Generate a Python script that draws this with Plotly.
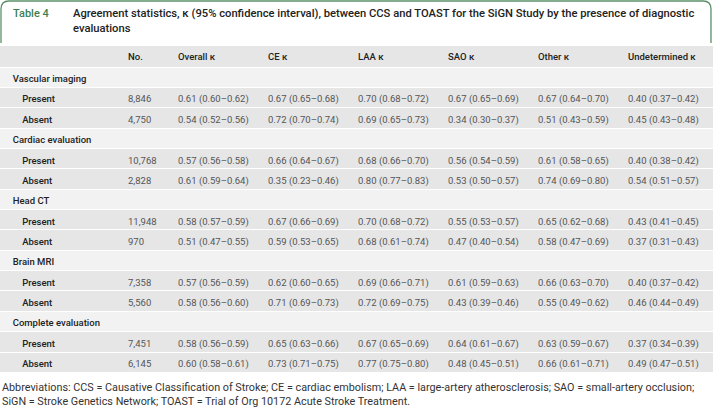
import plotly.graph_objects as go

W, H = 713, 407

title_label = "Table 4"
title_text = ("Agreement statistics, \u03ba (95% confidence interval), between CCS and TOAST for the SiGN Study by the presence of diagnostic"
              "<br>evaluations")

columns = ["", "No.", "Overall \u03ba", "CE \u03ba", "LAA \u03ba", "SAO \u03ba", "Other \u03ba", "Undetermined \u03ba"]

groups = ["Vascular imaging", "Cardiac evaluation", "Head CT", "Brain MRI", "Complete evaluation"]
levels = ["Present", "Absent"]

counts = [["8,846", "4,750"], ["10,768", "2,828"], ["11,948", "970"], ["7,358", "5,560"], ["7,451", "6,145"]]
overall = [["0.61 (0.60\u20130.62)", "0.54 (0.52\u20130.56)"], ["0.57 (0.56\u20130.58)", "0.61 (0.59\u20130.64)"],
           ["0.58 (0.57\u20130.59)", "0.51 (0.47\u20130.55)"], ["0.57 (0.56\u20130.59)", "0.58 (0.56\u20130.60)"],
           ["0.58 (0.56\u20130.59)", "0.60 (0.58\u20130.61)"]]
ce = [["0.67 (0.65\u20130.68)", "0.72 (0.70\u20130.74)"], ["0.66 (0.64\u20130.67)", "0.35 (0.23\u20130.46)"],
      ["0.67 (0.66\u20130.69)", "0.59 (0.53\u20130.65)"], ["0.62 (0.60\u20130.65)", "0.71 (0.69\u20130.73)"],
      ["0.65 (0.63\u20130.66)", "0.73 (0.71\u20130.75)"]]
laa = [["0.70 (0.68\u20130.72)", "0.69 (0.65\u20130.73)"], ["0.68 (0.66\u20130.70)", "0.80 (0.77\u20130.83)"],
       ["0.70 (0.68\u20130.72)", "0.68 (0.61\u20130.74)"], ["0.69 (0.66\u20130.71)", "0.72 (0.69\u20130.75)"],
       ["0.67 (0.65\u20130.69)", "0.77 (0.75\u20130.80)"]]
sao = [["0.67 (0.65\u20130.69)", "0.34 (0.30\u20130.37)"], ["0.56 (0.54\u20130.59)", "0.53 (0.50\u20130.57)"],
       ["0.55 (0.53\u20130.57)", "0.47 (0.40\u20130.54)"], ["0.61 (0.59\u20130.63)", "0.43 (0.39\u20130.46)"],
       ["0.64 (0.61\u20130.67)", "0.48 (0.45\u20130.51)"]]
other = [["0.67 (0.64\u20130.70)", "0.51 (0.43\u20130.59)"], ["0.61 (0.58\u20130.65)", "0.74 (0.69\u20130.80)"],
         ["0.65 (0.62\u20130.68)", "0.58 (0.47\u20130.69)"], ["0.66 (0.63\u20130.70)", "0.55 (0.49\u20130.62)"],
         ["0.63 (0.59\u20130.67)", "0.66 (0.61\u20130.71)"]]
undet = [["0.40 (0.37\u20130.42)", "0.45 (0.43\u20130.48)"], ["0.40 (0.38\u20130.42)", "0.54 (0.51\u20130.57)"],
         ["0.43 (0.41\u20130.45)", "0.37 (0.31\u20130.43)"], ["0.40 (0.37\u20130.42)", "0.46 (0.44\u20130.49)"],
         ["0.37 (0.34\u20130.39)", "0.49 (0.47\u20130.51)"]]

footnote = ("Abbreviations: CCS = Causative Classification of Stroke; CE = cardiac embolism; LAA = large-artery atherosclerosis; SAO = small-artery occlusion;"
            "<br>SiGN = Stroke Genetics Network; TOAST = Trial of Org 10172 Acute Stroke Treatment.")

# ---- build table columns ----
value_sets = [counts, overall, ce, laa, sao, other, undet]
col_label = []
col_vals = [[] for _ in value_sets]
row_kind = []
for gi, g in enumerate(groups):
    col_label.append("\u00a0\u00a0" + g)
    for c in col_vals:
        c.append("")
    row_kind.append("group")
    for li, lv in enumerate(levels):
        col_label.append("\u00a0" * 6 + lv)
        for k, vs in enumerate(value_sets):
            col_vals[k].append(vs[gi][li])
        row_kind.append("data")

GROUP_FILL = "#f2f2f2"
DATA_FILL = "#e6e6e6"
HEADER_FILL = "#e6e6e6"
n_rows = len(row_kind)

col_widths = [120, 50, 90, 90, 90, 90, 90, 93]
top_px = 45
domain_y = [0.02, 1 - top_px / H]
header_h = 22
row_h = 20.36
sep = 1.0

FONT = "Roboto"
label_font = dict(family=FONT, size=9.5, color="#222222", weight=500)

fig = go.Figure()

# row backgrounds (header + body rows) drawn as horizontal bands on a pixel-scaled axis
band_centers = [top_px + header_h / 2] + [top_px + header_h + row_h * (i + 0.5) for i in range(n_rows)]
band_widths = [header_h - sep] + [row_h - sep] * n_rows
band_fills = [HEADER_FILL] + [GROUP_FILL if k == "group" else DATA_FILL for k in row_kind]
fig.add_trace(go.Bar(
    orientation="h", y=band_centers, x=[1] * len(band_centers), width=band_widths,
    marker=dict(color=band_fills, line=dict(width=0)), hoverinfo="skip", showlegend=False,
))

# text layer
fig.add_trace(go.Table(
    domain=dict(x=[0, 1], y=domain_y),
    columnwidth=col_widths,
    header=dict(values=columns, fill_color="rgba(0,0,0,0)", line=dict(color="rgba(0,0,0,0)", width=0),
                align="left", font=label_font, height=header_h),
    cells=dict(values=[col_label] + col_vals, fill_color="rgba(0,0,0,0)",
               line=dict(color="rgba(0,0,0,0)", width=0),
               align="left",
               font=dict(family=FONT, size=9.5,
                         color=["#222222"] + ["#555555"] * len(value_sets),
                         weight=[500] + [400] * len(value_sets)),
               height=row_h),
))

# title frame with rounded top corners
def px(x, y):
    return f"{x / W:.5f},{1 - y / H:.5f}"

r = 8
x0, x1, yt, yb = 1, 711, 1, 43
path = (f"M {px(x0, yb)} L {px(x0, yt + r)} Q {px(x0, yt)} {px(x0 + r, yt)} "
        f"L {px(x1 - r, yt)} Q {px(x1, yt)} {px(x1, yt + r)} L {px(x1, yb)}")
fig.add_shape(type="path", path=path, xref="paper", yref="paper",
              line=dict(color="#5a9168", width=1.3))

fig.add_annotation(text=title_label, x=11 / W, y=1 - 14 / H, xref="paper", yref="paper",
                   xanchor="left", yanchor="middle", showarrow=False,
                   font=dict(family=FONT, size=11, color="#3f7f50", weight=500))
fig.add_annotation(text=title_text, x=71 / W, y=1 - 21 / H, xref="paper", yref="paper",
                   xanchor="left", yanchor="middle", align="left", showarrow=False,
                   font=dict(family=FONT, size=11.2, color="#222222", weight=500))
fig.add_annotation(text=footnote, x=0, y=1 - 394 / H, xref="paper", yref="paper",
                   xanchor="left", yanchor="middle", align="left", showarrow=False,
                   font=dict(family=FONT, size=10.8, color="#333333"))

fig.update_layout(width=W, height=H, margin=dict(l=0, r=0, t=0, b=0),
                  paper_bgcolor="white", plot_bgcolor="white",
                  xaxis=dict(range=[0, 1], visible=False, fixedrange=True),
                  yaxis=dict(range=[H, 0], visible=False, fixedrange=True),
                  bargap=0)

fig.write_html("out.html", config={"displayModeBar": False},
               post_script="document.body.style.margin='0';")
